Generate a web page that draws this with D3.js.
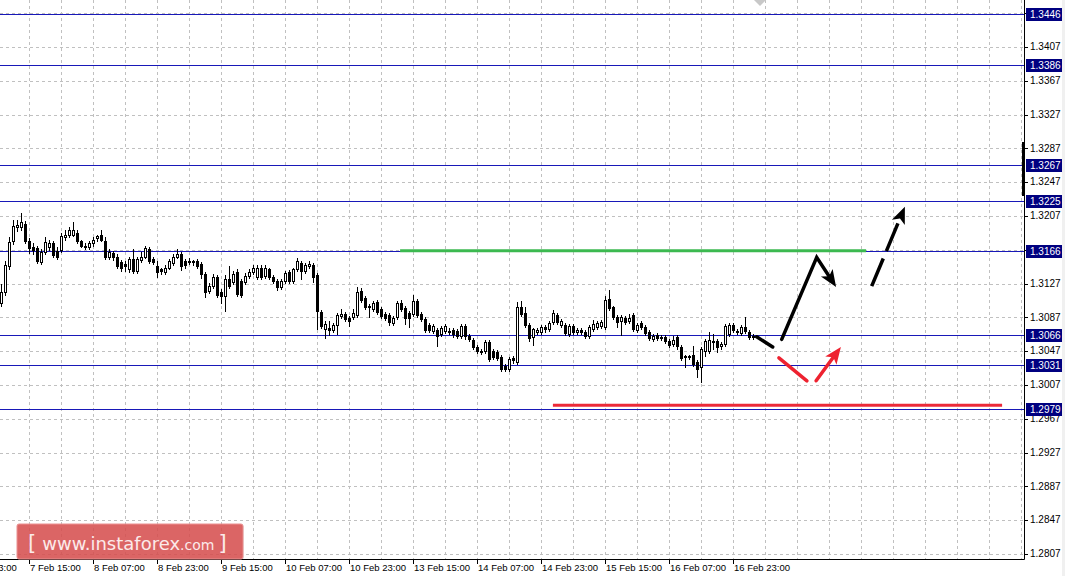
<!DOCTYPE html>
<html>
<head>
<meta charset="utf-8">
<script src="https://cdn.jsdelivr.net/npm/d3@7"></script>
<style>
html,body{margin:0;padding:0;background:#fff;}
svg{display:block;}
</style>
</head>
<body>
<svg id="chart" width="1065" height="576"></svg>
<script>
// ---------------- DATA ----------------
const open = [
1.3104,1.3117,1.3148,1.3177,1.3194,1.3194,1.3198,1.3178,1.3170,1.3169,
1.3152,1.3164,1.3170,1.3175,1.3165,1.3167,1.3182,1.3184,1.3185,1.3187,
1.3177,1.3172,1.3170,1.3175,1.3181,1.3184,1.3178,1.3158,1.3163,1.3159,
1.3152,1.3150,1.3144,1.3156,1.3142,1.3155,1.3159,1.3168,1.3156,1.3148,
1.3144,1.3141,1.3146,1.3151,1.3159,1.3162,1.3154,1.3154,1.3154,1.3154,
1.3150,1.3138,1.3118,1.3124,1.3135,1.3117,1.3112,1.3132,1.3129,1.3141,
1.3130,1.3129,1.3136,1.3141,1.3135,1.3146,1.3136,1.3144,1.3135,1.3130,
1.3123,1.3130,1.3141,1.3130,1.3144,1.3151,1.3142,1.3148,1.3149,1.3137,
1.3093,1.3073,1.3075,1.3072,1.3078,1.3089,1.3091,1.3086,1.3088,1.3090,
1.3118,1.3110,1.3100,1.3097,1.3105,1.3097,1.3091,1.3090,1.3080,1.3088,
1.3104,1.3098,1.3092,1.3091,1.3106,1.3091,1.3085,1.3078,1.3071,1.3072,
1.3067,1.3071,1.3071,1.3072,1.3071,1.3065,1.3077,1.3065,1.3060,1.3052,
1.3047,1.3047,1.3058,1.3047,1.3046,1.3040,1.3030,1.3026,1.3039,1.3034,
1.3099,1.3092,1.3078,1.3064,1.3070,1.3070,1.3076,1.3073,1.3082,1.3090,
1.3078,1.3078,1.3067,1.3077,1.3070,1.3072,1.3070,1.3065,1.3073,1.3076,
1.3077,1.3076,1.3109,1.3099,1.3088,1.3083,1.3086,1.3083,1.3090,1.3072,
1.3080,1.3076,1.3070,1.3062,1.3066,1.3063,1.3064,1.3059,1.3055,1.3064,
1.3052,1.3040,1.3041,1.3042,1.3034,1.3028,1.3047,1.3047,1.3059,1.3059,
1.3053,1.3056,1.3067,1.3078,1.3071,1.3069,1.3076,1.3070,1.3065];
const high = [
1.3126,1.3154,1.3182,1.3202,1.3202,1.3211,1.3201,1.3181,1.3175,1.3172,
1.3168,1.3182,1.3179,1.3177,1.3170,1.3187,1.3191,1.3194,1.3200,1.3190,
1.3179,1.3175,1.3177,1.3182,1.3185,1.3190,1.3182,1.3168,1.3165,1.3162,
1.3155,1.3154,1.3159,1.3168,1.3158,1.3164,1.3172,1.3170,1.3158,1.3154,
1.3146,1.3149,1.3156,1.3162,1.3168,1.3164,1.3156,1.3157,1.3155,1.3156,
1.3152,1.3141,1.3128,1.3138,1.3137,1.3121,1.3137,1.3148,1.3142,1.3144,
1.3132,1.3139,1.3144,1.3149,1.3149,1.3149,1.3149,1.3146,1.3137,1.3132,
1.3132,1.3142,1.3143,1.3146,1.3157,1.3154,1.3151,1.3154,1.3151,1.3139,
1.3096,1.3083,1.3083,1.3080,1.3092,1.3097,1.3093,1.3089,1.3097,1.3123,
1.3122,1.3112,1.3103,1.3106,1.3108,1.3099,1.3093,1.3092,1.3089,1.3106,
1.3108,1.3100,1.3095,1.3114,1.3109,1.3093,1.3087,1.3080,1.3079,1.3075,
1.3077,1.3079,1.3075,1.3075,1.3073,1.3079,1.3079,1.3067,1.3063,1.3054,
1.3050,1.3060,1.3060,1.3050,1.3048,1.3042,1.3032,1.3040,1.3041,1.3105,
1.3106,1.3099,1.3080,1.3075,1.3075,1.3078,1.3078,1.3083,1.3096,1.3092,
1.3085,1.3080,1.3079,1.3079,1.3075,1.3075,1.3072,1.3078,1.3084,1.3083,
1.3084,1.3112,1.3119,1.3101,1.3090,1.3090,1.3089,1.3091,1.3092,1.3080,
1.3083,1.3078,1.3072,1.3067,1.3069,1.3066,1.3066,1.3062,1.3065,1.3066,
1.3054,1.3043,1.3043,1.3053,1.3036,1.3052,1.3062,1.3070,1.3067,1.3062,
1.3058,1.3079,1.3080,1.3080,1.3073,1.3078,1.3088,1.3072,1.3067];
const low = [
1.3100,1.3113,1.3144,1.3174,1.3189,1.3191,1.3175,1.3163,1.3162,1.3151,
1.3150,1.3162,1.3167,1.3158,1.3156,1.3164,1.3179,1.3182,1.3183,1.3175,
1.3170,1.3168,1.3168,1.3172,1.3178,1.3177,1.3156,1.3156,1.3155,1.3145,
1.3142,1.3142,1.3141,1.3139,1.3139,1.3152,1.3157,1.3151,1.3150,1.3135,
1.3138,1.3138,1.3144,1.3149,1.3157,1.3143,1.3146,1.3150,1.3149,1.3145,
1.3134,1.3111,1.3116,1.3122,1.3111,1.3104,1.3095,1.3122,1.3126,1.3112,
1.3111,1.3126,1.3134,1.3138,1.3132,1.3132,1.3134,1.3132,1.3128,1.3119,
1.3121,1.3128,1.3128,1.3128,1.3142,1.3132,1.3139,1.3145,1.3129,1.3073,
1.3075,1.3063,1.3066,1.3070,1.3067,1.3086,1.3083,1.3077,1.3085,1.3088,
1.3105,1.3097,1.3088,1.3095,1.3091,1.3086,1.3084,1.3078,1.3078,1.3085,
1.3095,1.3079,1.3076,1.3089,1.3088,1.3083,1.3070,1.3070,1.3069,1.3053,
1.3065,1.3069,1.3067,1.3064,1.3063,1.3063,1.3062,1.3059,1.3050,1.3045,
1.3044,1.3045,1.3035,1.3038,1.3037,1.3023,1.3023,1.3023,1.3033,1.3032,
1.3089,1.3076,1.3059,1.3054,1.3067,1.3067,1.3070,1.3071,1.3079,1.3079,
1.3076,1.3066,1.3065,1.3067,1.3067,1.3067,1.3063,1.3063,1.3071,1.3073,
1.3075,1.3073,1.3096,1.3085,1.3076,1.3066,1.3079,1.3080,1.3071,1.3070,
1.3073,1.3066,1.3060,1.3059,1.3060,1.3060,1.3057,1.3052,1.3053,1.3050,
1.3037,1.3028,1.3038,1.3029,1.3017,1.3010,1.3041,1.3045,1.3050,1.3046,
1.3050,1.3053,1.3065,1.3070,1.3067,1.3066,1.3069,1.3062,1.3062];
const close = [
1.3117,1.3149,1.3176,1.3195,1.3196,1.3200,1.3178,1.3169,1.3167,1.3154,
1.3164,1.3176,1.3175,1.3161,1.3159,1.3183,1.3185,1.3190,1.3191,1.3177,
1.3172,1.3170,1.3175,1.3179,1.3183,1.3179,1.3158,1.3164,1.3158,1.3148,
1.3146,1.3148,1.3156,1.3142,1.3156,1.3159,1.3169,1.3154,1.3152,1.3141,
1.3142,1.3146,1.3154,1.3159,1.3162,1.3148,1.3149,1.3152,1.3153,1.3148,
1.3138,1.3117,1.3124,1.3135,1.3113,1.3112,1.3132,1.3124,1.3138,1.3115,
1.3113,1.3136,1.3141,1.3146,1.3146,1.3135,1.3146,1.3135,1.3130,1.3123,
1.3130,1.3139,1.3130,1.3144,1.3154,1.3142,1.3149,1.3150,1.3135,1.3095,
1.3077,1.3079,1.3072,1.3078,1.3090,1.3091,1.3085,1.3083,1.3092,1.3117,
1.3108,1.3099,1.3099,1.3104,1.3093,1.3089,1.3086,1.3082,1.3086,1.3104,
1.3097,1.3086,1.3086,1.3106,1.3090,1.3085,1.3072,1.3072,1.3077,1.3065,
1.3075,1.3077,1.3070,1.3067,1.3065,1.3077,1.3065,1.3062,1.3052,1.3047,
1.3046,1.3058,1.3038,1.3040,1.3039,1.3026,1.3026,1.3038,1.3037,1.3099,
1.3091,1.3078,1.3063,1.3073,1.3072,1.3076,1.3073,1.3080,1.3092,1.3082,
1.3083,1.3068,1.3077,1.3070,1.3072,1.3070,1.3065,1.3076,1.3079,1.3080,
1.3082,1.3108,1.3098,1.3088,1.3082,1.3088,1.3082,1.3086,1.3073,1.3078,
1.3076,1.3069,1.3063,1.3065,1.3063,1.3064,1.3059,1.3054,1.3060,1.3053,
1.3039,1.3041,1.3040,1.3032,1.3026,1.3050,1.3059,1.3060,1.3058,1.3052,
1.3056,1.3077,1.3078,1.3072,1.3070,1.3076,1.3071,1.3064,1.3064];

// time axis: label text and the bar index (hourly bars) it sits on
const timeLabels = ["6 Feb 23:00","7 Feb 15:00","8 Feb 07:00","8 Feb 23:00","9 Feb 15:00","10 Feb 07:00","10 Feb 23:00","13 Feb 15:00","14 Feb 07:00","14 Feb 23:00","15 Feb 15:00","16 Feb 07:00","16 Feb 23:00"];
const timeLabelBars = [-9,7,23,39,55,71,87,103,119,135,151,167,183];

// price axis ticks
const priceTicks = [1.2807,1.2847,1.2887,1.2927,1.2967,1.3007,1.3047,1.3087,1.3127,1.3167,1.3207,1.3247,1.3287,1.3327,1.3367,1.3407,1.3447];
// horizontal levels
const levels = [1.3446,1.3386,1.3267,1.3225,1.3166,1.3066,1.3031,1.2979];

// annotations (bar index, price)
const greenLine = [[99.7,1.3166],[216.2,1.3166]];
const redLine = [[137.9,1.2983],[250.2,1.2983]];
const blackSeg = [[188.85,1.3064],[192.85,1.3052]];
const blackArrow = [[195.1,1.3061],[203.85,1.3158],[208.7,1.3123]];
const blackDashArrow = [[217.6,1.3124],[225.9,1.3218]];
const redSeg = [[194.4,1.3039],[201.4,1.3012]];
const redArrow = [[203.7,1.3012],[209.9,1.3052]];

// ---------------- LAYOUT ----------------
const W = 1065, H = 576;
const plotRight = 1024, plotBottom = 559;
const svg = d3.select("#chart");
const x = d3.scaleLinear().domain([0, 1]).range([1.3, 5.3]);
const y = d3.scaleLinear().domain([1.3207, 1.3007]).range([216, 385]);
const gridColor = "#c0c0c0";
const levelColor = "#1818b8";
const font = "'Liberation Sans', Arial, sans-serif";

svg.append("rect").attr("width", W).attr("height", H).attr("fill", "#fff");
svg.append("rect").attr("x", 1062).attr("y", 0).attr("width", 3).attr("height", H).attr("fill", "#f0f0f0");

const plot = svg.append("g");
plot.append("defs").append("clipPath").attr("id", "clip")
  .append("rect").attr("x", 0).attr("y", 0).attr("width", plotRight).attr("height", plotBottom);

// grid
const grid = plot.append("g").attr("clip-path", "url(#clip)");
const vBars = d3.range(7, 256, 8);
grid.selectAll(".vg").data(vBars).join("line")
  .attr("x1", d => Math.round(x(d)) + 0.5).attr("x2", d => Math.round(x(d)) + 0.5)
  .attr("y1", 0).attr("y2", plotBottom)
  .attr("stroke", gridColor).attr("stroke-dasharray", "3,3");
grid.selectAll(".hg").data(priceTicks).join("line")
  .attr("x1", 0).attr("x2", plotRight)
  .attr("y1", d => Math.round(y(d)) + 0.5).attr("y2", d => Math.round(y(d)) + 0.5)
  .attr("stroke", gridColor).attr("stroke-dasharray", "3,3");

// levels
grid.selectAll(".lv").data(levels).join("line")
  .attr("x1", 0).attr("x2", plotRight)
  .attr("y1", d => Math.round(y(d)) + 0.5).attr("y2", d => Math.round(y(d)) + 0.5)
  .attr("stroke", levelColor).attr("stroke-width", 1);

// annotations lines (green/red)
const line = d3.line().x(d => x(d[0])).y(d => y(d[1]));
grid.append("path").attr("d", line(greenLine)).attr("stroke", "#3cb950").attr("stroke-width", 3).attr("fill", "none");
grid.append("path").attr("d", line(redLine)).attr("stroke", "#ec2a38").attr("stroke-width", 3).attr("fill", "none");

// candles
const candles = grid.append("g");
const n = open.length;
for (let i = 0; i < n; i++) {
  const cx = Math.floor(x(i)) + 0.5;
  const o = open[i], c = close[i];
  candles.append("line")
    .attr("x1", cx).attr("x2", cx)
    .attr("y1", Math.round(y(high[i]))).attr("y2", Math.round(y(low[i])) + 1)
    .attr("stroke", "#000").attr("stroke-width", 1);
  const yTop = Math.round(y(Math.max(o, c)));
  const yBot = Math.round(y(Math.min(o, c)));
  if (yBot - yTop < 1) {
    candles.append("line").attr("x1", cx - 1.5).attr("x2", cx + 1.5)
      .attr("y1", yTop + 0.5).attr("y2", yTop + 0.5).attr("stroke", "#000");
  } else if (c > o) {
    candles.append("rect").attr("x", cx - 1).attr("y", yTop + 0.5)
      .attr("width", 2).attr("height", yBot - yTop)
      .attr("fill", "#fff").attr("stroke", "#000").attr("stroke-width", 1);
  } else {
    candles.append("rect").attr("x", cx - 1.5).attr("y", yTop)
      .attr("width", 3).attr("height", yBot - yTop + 1)
      .attr("fill", "#000");
  }
}

// arrows
function arrowHead(g, pts, color) {
  const p1 = pts[pts.length - 2], p2 = pts[pts.length - 1];
  const x1 = x(p1[0]), y1 = y(p1[1]), x2 = x(p2[0]), y2 = y(p2[1]);
  const ang = Math.atan2(y2 - y1, x2 - x1);
  const L = 17, hw = 7;
  const bx = x2 - L * Math.cos(ang), by = y2 - L * Math.sin(ang);
  const px = -Math.sin(ang) * hw, py = Math.cos(ang) * hw;
  g.append("polygon")
    .attr("points", [[x2, y2], [bx + px, by + py], [bx + L * 0.25 * Math.cos(ang), by + L * 0.25 * Math.sin(ang)], [bx - px, by - py]].map(p => p.join(",")).join(" "))
    .attr("fill", color);
  return [bx + L * 0.3 * Math.cos(ang), by + L * 0.3 * Math.sin(ang)];
}
function drawArrow(g, pts, color, dash) {
  const base = arrowHead(g, pts, color);
  const coords = pts.map(p => [x(p[0]), y(p[1])]);
  coords[coords.length - 1] = base;
  const p = g.append("path").attr("d", d3.line()(coords))
    .attr("stroke", color).attr("stroke-width", 3.5).attr("fill", "none")
    .attr("stroke-linecap", "round").attr("stroke-linejoin", "miter");
  if (dash) p.attr("stroke-dasharray", dash).attr("stroke-linecap", "butt");
}
const arr = grid.append("g");
arr.append("path").attr("d", line(blackSeg)).attr("stroke", "#000").attr("stroke-width", 3.5).attr("stroke-linecap", "round").attr("fill", "none");
drawArrow(arr, blackArrow, "#000");
drawArrow(arr, blackDashArrow, "#000", "30,8");
arr.append("path").attr("d", line(redSeg)).attr("stroke", "#ee2230").attr("stroke-width", 3.5).attr("stroke-linecap", "round").attr("fill", "none");
drawArrow(arr, redArrow, "#ee2230");

// top marker
svg.append("polygon").attr("points", "754,0 766,0 760,6").attr("fill", "#c8c8c8");

// axes lines
svg.append("line").attr("x1", 0).attr("x2", plotRight + 0.5).attr("y1", plotBottom + 0.5).attr("y2", plotBottom + 0.5).attr("stroke", "#000");
svg.append("line").attr("x1", plotRight + 0.5).attr("x2", plotRight + 0.5).attr("y1", 0).attr("y2", plotBottom + 0.5).attr("stroke", "#000");
// current price bar on axis
svg.append("rect").attr("x", 1022).attr("y", 142).attr("width", 3).attr("height", 54).attr("fill", "#000");

// price ticks and labels
const yAxis = svg.append("g");
yAxis.selectAll(".yt").data(priceTicks).join("line")
  .attr("x1", plotRight).attr("x2", plotRight + 4)
  .attr("y1", d => Math.round(y(d)) + 0.5).attr("y2", d => Math.round(y(d)) + 0.5)
  .attr("stroke", "#000");
yAxis.selectAll(".yl").data(priceTicks).join("text")
  .attr("x", 1030).attr("y", d => y(d) + 0.5)
  .attr("dominant-baseline", "middle")
  .attr("font-family", font).attr("font-size", "10px").attr("fill", "#000")
  .text(d => d.toFixed(4));

// level labels
const lvG = svg.append("g");
lvG.selectAll("rect").data(levels).join("rect")
  .attr("x", 1026).attr("y", d => Math.round(y(d)) - 6).attr("width", 36).attr("height", 13)
  .attr("fill", "#000080");
lvG.selectAll("text").data(levels).join("text")
  .attr("x", 1030).attr("y", d => Math.round(y(d)) + 1)
  .attr("dominant-baseline", "middle")
  .attr("font-family", font).attr("font-size", "10px").attr("fill", "#fff")
  .text(d => d.toFixed(4));

// time axis
const xAxis = svg.append("g");
xAxis.selectAll("line").data(timeLabelBars).join("line")
  .attr("x1", d => Math.round(x(d)) + 0.5).attr("x2", d => Math.round(x(d)) + 0.5)
  .attr("y1", plotBottom).attr("y2", plotBottom + 5).attr("stroke", "#000");
xAxis.selectAll("text").data(timeLabels).join("text")
  .attr("x", (d, i) => Math.round(x(timeLabelBars[i])) + 1)
  .attr("y", 568)
  .attr("dominant-baseline", "middle")
  .attr("font-family", font).attr("font-size", "9.5px").attr("fill", "#000")
  .text(d => d);

// logo
const logo = svg.append("g").attr("transform", "translate(17,524)");
logo.append("rect").attr("x", 1).attr("y", 1).attr("width", 226).attr("height", 35).attr("rx", 2)
  .attr("fill", "#000").attr("opacity", 0.08);
logo.append("rect").attr("width", 226).attr("height", 35).attr("rx", 2)
  .attr("fill", "#d94f4f").attr("fill-opacity", 0.86).attr("stroke", "#e99090").attr("stroke-width", 1);
const lf = "'DejaVu Sans', Verdana, sans-serif";
const logoText = logo.append("text").attr("x", 11).attr("y", 26).attr("font-family", lf).attr("fill", "#fbeaea");
logoText.append("tspan").attr("font-size", "21px").text("[");
logoText.append("tspan").attr("dx", 6).attr("font-size", "18px").text("www.instaforex");
logoText.append("tspan").attr("font-size", "14px").text(".com");
logoText.append("tspan").attr("dx", 4).attr("font-size", "21px").text("]");
</script>
</body>
</html>
